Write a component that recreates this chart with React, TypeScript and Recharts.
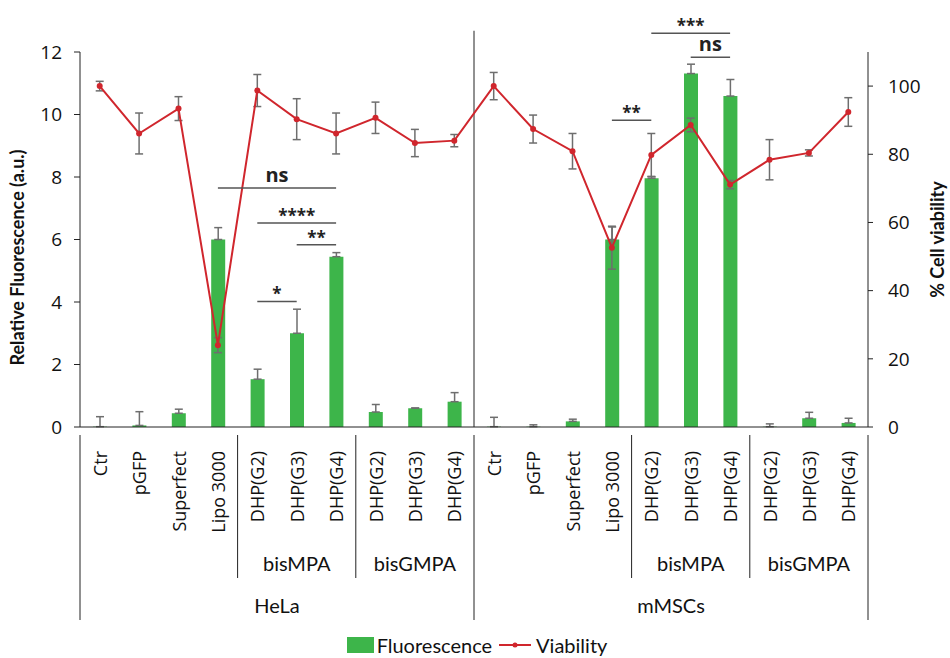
import React from "react";
import {
  ComposedChart,
  Bar,
  Line,
  XAxis,
  YAxis,
  ErrorBar,
  ReferenceLine,
  Legend,
} from "recharts";

const cellLines = ["HeLa", "mMSCs"];
const treatments = [
  "Ctr",
  "pGFP",
  "Superfect",
  "Lipo 3000",
  "DHP(G2)",
  "DHP(G3)",
  "DHP(G4)",
  "DHP(G2)",
  "DHP(G3)",
  "DHP(G4)",
];
const polymerLabels = ["bisMPA", "bisGMPA"];

// Relative fluorescence (left axis), HeLa then mMSCs
const fluoHeLa = [0.01, 0.05, 0.44, 6.0, 1.53, 3.0, 5.45, 0.48, 0.6, 0.81];
const fluoHeLaErr = [0.32, 0.44, 0.13, 0.38, 0.32, 0.77, 0.13, 0.24, 0.01, 0.29];
const fluoMSC = [0.01, 0.01, 0.18, 6.0, 7.96, 11.31, 10.59, 0.01, 0.28, 0.13];
const fluoMSCErr = [0.3, 0.06, 0.07, 0.4, 0.05, 0.3, 0.53, 0.09, 0.19, 0.15];

// % cell viability (right axis)
const viaHeLa = [100, 86.1, 93.4, 24.0, 98.7, 90.3, 86.1, 90.7, 83.3, 84.0];
const viaHeLaErr = [1.4, 6, 3.5, 2.2, 4.7, 6, 6, 4.6, 4, 1.8];
const viaMSC = [100, 87.4, 80.9, 52.6, 79.8, 88.6, 71.1, 78.4, 80.4, 92.4];
const viaMSCErr = [4, 4.1, 5.2, 6.3, 6.3, 2, 1.2, 5.9, 0.9, 4.2];

const leftTicks = [0, 2, 4, 6, 8, 10, 12];
const rightTicks = [0, 20, 40, 60, 80, 100];

// significance brackets: [cell line, from index, to index, level (left axis), label]
const sigBrackets: [number, number, number, number, string][] = [
  [0, 3, 6, 7.65, "ns"],
  [0, 4, 6, 6.53, "****"],
  [0, 5, 6, 5.83, "**"],
  [0, 4, 5, 4.02, "*"],
  [1, 3, 4, 9.82, "**"],
  [1, 5, 6, 11.83, "ns"],
  [1, 4, 6, 12.6, "***"],
];

const GREEN = "#3db54a";
const RED = "#d0262d";
const GREY = "#6e6e6e";

const keyOf = (c: number, i: number) => `${cellLines[c]}|${i}`;

const data = cellLines.flatMap((_, c) =>
  treatments.map((t, i) => ({
    key: keyOf(c, i),
    label: t,
    fluo: c === 0 ? fluoHeLa[i] : fluoMSC[i],
    fluoErr: [0, c === 0 ? fluoHeLaErr[i] : fluoMSCErr[i]],
    via: c === 0 ? viaHeLa[i] : viaMSC[i],
    viaErr: c === 0 ? viaHeLaErr[i] : viaMSCErr[i],
  }))
);

const tickFont = "'Open Sans', sans-serif";
const labelFont = "Lato, 'Open Sans', sans-serif";

function CategoryTick(props: any) {
  const { x, y, payload } = props;
  const idx: number = payload.index ?? props.index;
  const half: number = payload.offset ?? 0;
  const local = idx % 10;
  const items: React.ReactNode[] = [];
  items.push(
    <text
      key="t"
      transform={`translate(${x},${y + 16}) rotate(-90)`}
      textAnchor="end"
      dominantBaseline="central"
      fontSize={18}
      fontFamily={tickFont}
      fill="#111"
    >
      {treatments[local]}
    </text>
  );
  if (local === 0) {
    items.push(
      <line key="l0" x1={x - half} x2={x - half} y1={y} y2={y + 185} stroke="#222" />
    );
  }
  if (local === 4 || local === 7) {
    items.push(
      <line key="ls" x1={x - half} x2={x - half} y1={y} y2={y + 143} stroke="#222" />
    );
  }
  if (idx === data.length - 1) {
    items.push(
      <line key="le" x1={x + half} x2={x + half} y1={y} y2={y + 185} stroke="#222" />
    );
  }
  if (local === 5 || local === 8) {
    items.push(
      <text
        key="p"
        x={x}
        y={y + 128}
        textAnchor="middle"
        dominantBaseline="central"
        fontSize={20}
        fontFamily={labelFont}
        fill="#111"
      >
        {polymerLabels[local === 5 ? 0 : 1]}
      </text>
    );
  }
  if (local === 4) {
    items.push(
      <text
        key="c"
        x={x + half}
        y={y + 170}
        textAnchor="middle"
        dominantBaseline="central"
        fontSize={20}
        fontFamily={labelFont}
        fill="#111"
      >
        {cellLines[Math.floor(idx / 10)]}
      </text>
    );
  }
  return <g>{items}</g>;
}

function LegendContent() {
  return (
    <div
      style={{
        display: "flex",
        justifyContent: "center",
        alignItems: "center",
        fontFamily: labelFont,
        fontSize: 20,
        lineHeight: "24px",
        color: "#111",
        paddingLeft: 4,
      }}
    >
      <span style={{ width: 27, height: 16, background: GREEN, display: "inline-block", marginRight: 3 }} />
      <span>Fluorescence</span>
      <svg width={34} height={12} style={{ marginLeft: 6, marginRight: 4 }}>
        <line x1={1} x2={33} y1={6} y2={6} stroke={RED} strokeWidth={2} />
        <circle cx={17} cy={6} r={2.5} fill={RED} />
      </svg>
      <span>Viability</span>
    </div>
  );
}

export default function App() {
  return (
    <div style={{ position: "absolute", left: 0, top: 0, background: "#fff" }}>
      <ComposedChart
        width={950}
        height={658}
        data={data}
        margin={{ top: 52, right: 0, bottom: 0, left: 0 }}
      >
        <XAxis
          dataKey="key"
          interval={0}
          height={231}
          tickLine={false}
          axisLine={{ stroke: "#222" }}
          tick={<CategoryTick />}
        />
        <YAxis
          yAxisId="left"
          width={80}
          domain={[0, 12]}
          ticks={leftTicks}
          tickSize={6}
          tickMargin={12}
          axisLine={{ stroke: "#222" }}
          tickLine={{ stroke: "#222" }}
          tick={{ fontSize: 19, fontFamily: tickFont, fill: "#111" }}
          label={{
            value: "Relative Fluorescence (a.u.)",
            angle: -90,
            position: "center",
            dx: -22,
            dy: 18,
            style: { fontSize: 18, fontWeight: 700, fontFamily: labelFont, fill: "#111", textAnchor: "middle" },
          }}
        />
        <YAxis
          yAxisId="right"
          orientation="right"
          width={82}
          domain={[0, 110]}
          ticks={rightTicks}
          tickSize={5}
          tickMargin={15}
          axisLine={{ stroke: "#222" }}
          tickLine={{ stroke: "#222" }}
          tick={{ fontSize: 19, fontFamily: tickFont, fill: "#111" }}
          label={{
            value: "% Cell viability",
            angle: -90,
            position: "center",
            dx: 29,
            style: { fontSize: 18, fontWeight: 700, fontFamily: labelFont, fill: "#111", textAnchor: "middle" },
          }}
        />
        <ReferenceLine
          yAxisId="left"
          segment={[
            { x: keyOf(1, 0), y: 0 },
            { x: keyOf(1, 0), y: 12.68 },
          ]}
          position="start"
          ifOverflow="visible"
          stroke="#222"
        />
        <Bar
          yAxisId="left"
          dataKey="fluo"
          name="Fluorescence"
          fill={GREEN}
          barSize={14}
          isAnimationActive={false}
        >
          <ErrorBar dataKey="fluoErr" width={4} stroke={GREY} strokeWidth={1.5} />
        </Bar>
        <Line
          yAxisId="right"
          dataKey="via"
          name="Viability"
          stroke={RED}
          strokeWidth={2}
          dot={{ r: 3, fill: RED, stroke: RED, strokeWidth: 0 }}
          activeDot={false}
          isAnimationActive={false}
        >
          <ErrorBar dataKey="viaErr" width={4} stroke={GREY} strokeWidth={1.5} />
        </Line>
        {sigBrackets.map(([c, a, b, lvl, txt], k) => (
          <ReferenceLine
            key={k}
            yAxisId="left"
            segment={[
              { x: keyOf(c, a), y: lvl },
              { x: keyOf(c, b), y: lvl },
            ]}
            ifOverflow="visible"
            stroke="#555"
            strokeWidth={1.5}
            label={{
              value: txt,
              position: "top",
              offset: txt === "ns" ? 6 : 1,
              style: {
                fontSize: txt === "ns" ? 20 : 17,
                fontWeight: 700,
                fontFamily: tickFont,
                fill: "#222",
              },
            }}
          />
        ))}
        <Legend
          verticalAlign="middle"
          align="center"
          layout="horizontal"
          wrapperStyle={{ top: 633, left: 0, width: 950 }}
          content={<LegendContent />}
        />
      </ComposedChart>
    </div>
  );
}
